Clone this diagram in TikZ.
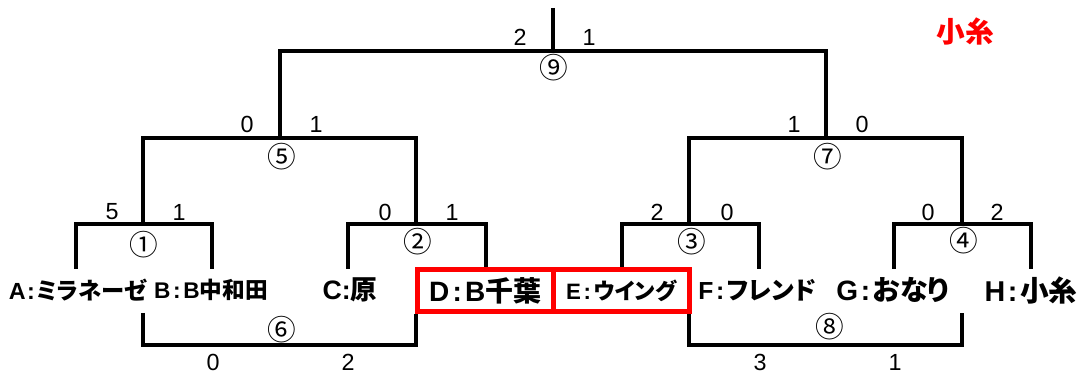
\documentclass[tikz,border=0pt]{standalone}
\usepackage{fontspec}
\setmainfont{Liberation Sans}
\newfontfamily\jp{Noto Sans CJK JP}[RawFeature=+palt]
\newcommand{\team}[4]{\fontsize{#1}{#1}\selectfont\bfseries #2\kern#3pt:\kern#3pt{\jp #4}}
\begin{document}
\begin{tikzpicture}[x=0.75pt,y=-0.75pt,
  br/.style={line width=2.3pt,line join=miter},
  sc/.style={font=\fontsize{17.5}{17.5}\selectfont,inner sep=0pt},
  cn/.style={font=\jp\fontsize{21.5}{21.5}\selectfont,inner sep=0pt},
  tm/.style={inner sep=0pt},
  redbox/.style={draw=red,line width=3.8pt,minimum width=101.8pt,inner sep=0pt,minimum height=31.5pt}]
\useasboundingbox (0,0) rectangle (1083,374);
% coordinates
\coordinate (top) at (553,8);
\coordinate (j9) at (553,51);
\coordinate (j5) at (280,138);
\coordinate (j7) at (826,138);
\coordinate (j1) at (143,224);
\coordinate (j2) at (416,224);
\coordinate (j3) at (689,224);
\coordinate (j4) at (962,224);
\coordinate (tA) at (76,269);
\coordinate (tB) at (212,269);
\coordinate (tC) at (348,269);
\coordinate (tD) at (486,267);
\coordinate (tE) at (622,267);
\coordinate (tF) at (759,269);
\coordinate (tG) at (894,269);
\coordinate (tH) at (1031,269);
\coordinate (l6a) at (143,313);
\coordinate (l6b) at (416,314);
\coordinate (j6) at (280,345);
\coordinate (l8a) at (689,314);
\coordinate (l8b) at (962,313);
\coordinate (j8) at (826,345);
% brackets
\draw[br] (top) -- (j9);
\draw[br] (j5) |- (j9) -| (j7);
\draw[br] (j1) |- (j5) -| (j2);
\draw[br] (j3) |- (j7) -| (j4);
\draw[br] (tA) |- (j1) -| (tB);
\draw[br] (tC) |- (j2) -| (tD);
\draw[br] (tE) |- (j3) -| (tF);
\draw[br] (tG) |- (j4) -| (tH);
\draw[br] (l6a) |- (j6) -| (l6b);
\draw[br] (l8a) |- (j8) -| (l8b);
% circled match numbers
\node[cn] (n9) at (554,68) {⑨};
\node[cn] (n5) at (282,157) {⑤};
\node[cn] (n7) at (828,157) {⑦};
\node[cn] (n1) at (144,245) {①};
\node[cn] (n2) at (418,242) {②};
\node[cn] (n3) at (692,242) {③};
\node[cn] (n4) at (964,241) {④};
\node[cn] (n6) at (282,330) {⑥};
\node[cn] (n8) at (830,327) {⑧};
% scores
\node[sc] (s9a) at (520,37) {2};
\node[sc] (s9b) at (589,37) {1};
\node[sc] (s5a) at (247,124) {0};
\node[sc] (s5b) at (316,124) {1};
\node[sc] (s7a) at (794,124) {1};
\node[sc] (s7b) at (862,124) {0};
\node[sc] (s1a) at (112,212) {5};
\node[sc] (s1b) at (179,212) {1};
\node[sc] (s2a) at (385,212) {0};
\node[sc] (s2b) at (452,212) {1};
\node[sc] (s3a) at (657,212) {2};
\node[sc] (s3b) at (727,212) {0};
\node[sc] (s4a) at (928,212) {0};
\node[sc] (s4b) at (997,212) {2};
\node[sc] (s6a) at (213,362) {0};
\node[sc] (s6b) at (348,362) {2};
\node[sc] (s8a) at (760,362) {3};
\node[sc] (s8b) at (895,362) {1};
% teams
\node[tm] (A) at (78,290) {\team{17.5}{A}{1}{ミラネーゼ}};
\node[tm] (B) at (211,290) {\team{17}{B}{2}{\rmfamily B\jp 中和田}};
\node[tm] (C) at (350,290) {\team{20}{C}{0}{原}};
\node[redbox] (D) at (485.25,290.5) {\team{21}{D}{2.5}{\rmfamily B\jp 千葉}};
\node[redbox] (E) at (621.25,290.5) {\team{16.7}{E}{2}{ウイング}};
\node[tm] (F) at (757,290) {\team{18.5}{F}{2}{フレンド}};
\node[tm] (G) at (893,290) {\team{21}{G}{2}{おなり}};
\node[tm] (H) at (1031,290) {\team{21.5}{H}{2}{小糸}};
% winner
\node[tm,text=red,font=\jp\bfseries\fontsize{21.5}{21.5}\selectfont] (win) at (965,31) {小糸};
\end{tikzpicture}
\end{document}
